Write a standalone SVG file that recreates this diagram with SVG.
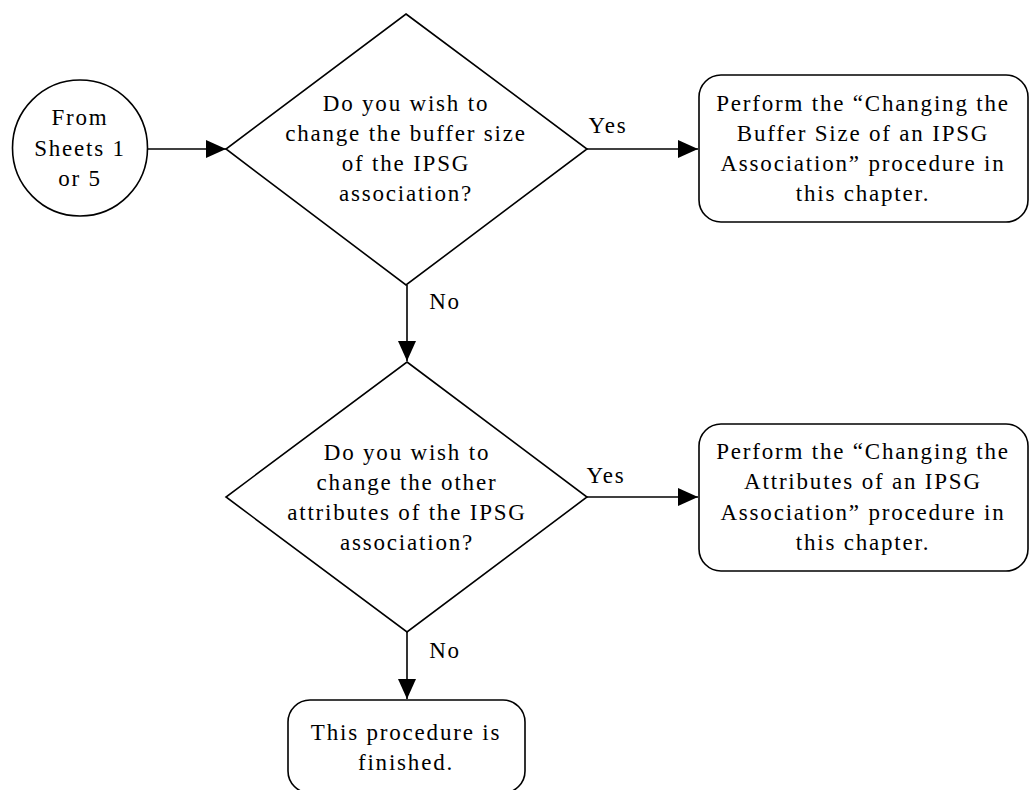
<svg xmlns="http://www.w3.org/2000/svg" width="1029" height="790" viewBox="0 0 1029 790">
<style>
text{font-family:"Liberation Serif","Times New Roman",serif;font-size:23px;fill:#000;text-anchor:middle;letter-spacing:1.8px}
.s{fill:#fff;stroke:#000;stroke-width:1.6}
.c{stroke:#000;stroke-width:1.6;fill:none}
</style>
<defs>
<marker id="a" markerWidth="20" markerHeight="18" refX="20" refY="9" orient="auto" markerUnits="userSpaceOnUse" viewBox="0 0 20 18">
<path d="M0,0L20,9L0,18z" fill="#000"/>
</marker>
</defs>
<rect width="1029" height="790" fill="#fff"/>
<g id="connectors">
<line class="c" x1="148" y1="149" x2="226" y2="149" marker-end="url(#a)"/>
<line class="c" x1="587" y1="149" x2="698" y2="149" marker-end="url(#a)"/>
<line class="c" x1="407" y1="285" x2="407" y2="361" marker-end="url(#a)"/>
<line class="c" x1="587" y1="497" x2="698" y2="497" marker-end="url(#a)"/>
<line class="c" x1="407" y1="632" x2="407" y2="699" marker-end="url(#a)"/>
<text x="608" y="133">Yes</text>
<text x="445" y="309">No</text>
<text x="606" y="483">Yes</text>
<text x="445" y="658">No</text>
</g>
<g id="start">
<ellipse class="s" cx="80" cy="148" rx="67.5" ry="68"/>
<text x="80" y="125">From</text>
<text x="80" y="156">Sheets 1</text>
<text x="80" y="186">or 5</text>
</g>
<g id="decision1">
<polygon class="s" points="406,14 587,149 406,285 226,149"/>
<text x="406" y="111">Do you wish to</text>
<text x="406" y="141">change the buffer size</text>
<text x="406" y="171">of the IPSG</text>
<text x="406" y="201">association?</text>
</g>
<g id="buffer">
<rect class="s" x="699" y="75" width="329" height="147" rx="22"/>
<text x="863" y="111">Perform the “Changing the</text>
<text x="863" y="141">Buffer Size of an IPSG</text>
<text x="863" y="171">Association” procedure in</text>
<text x="863" y="201">this chapter.</text>
</g>
<g id="decision2">
<polygon class="s" points="407,362 587,497 407,632 226,497"/>
<text x="407" y="460">Do you wish to</text>
<text x="407" y="490">change the other</text>
<text x="407" y="520">attributes of the IPSG</text>
<text x="407" y="550">association?</text>
</g>
<g id="attributes">
<rect class="s" x="699" y="424" width="329" height="147" rx="22"/>
<text x="863" y="459">Perform the “Changing the</text>
<text x="863" y="489">Attributes of an IPSG</text>
<text x="863" y="520">Association” procedure in</text>
<text x="863" y="550">this chapter.</text>
</g>
<g id="finished">
<rect class="s" x="288" y="700" width="237" height="93" rx="22"/>
<text x="406" y="740">This procedure is</text>
<text x="406" y="770">finished.</text>
</g>
</svg>
